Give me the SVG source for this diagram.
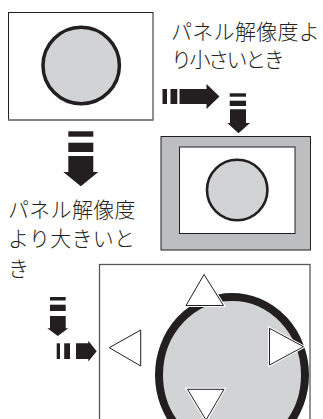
<svg xmlns="http://www.w3.org/2000/svg" width="323" height="419" viewBox="0 0 323 419">
<style>
.t{font-family:"Noto Sans CJK JP","Noto Sans",sans-serif;font-size:21px;font-weight:300;letter-spacing:0.3px;fill:#231f20}
.ar{fill:#231f20}
.disc{fill:#d1d3d4;stroke:#231f20}
.tri{fill:#fff;stroke:#231f20;stroke-width:1;stroke-linejoin:miter}
.halo{fill:none;stroke:#fff;stroke-width:3}
</style>
<rect width="323" height="419" fill="#fff"/>
<g id="source">
<rect x="8.5" y="12.5" width="144.5" height="107.5" fill="#fff" stroke="#231f20" stroke-width="1"/>
<line x1="8" y1="120" x2="153.5" y2="120" stroke="#808285" stroke-width="1.5"/>
<circle class="disc" cx="81.2" cy="65.5" r="38.2" stroke-width="3.5"/>
</g>
<g id="small">
<rect x="161" y="136.5" width="149.5" height="113.5" fill="#bcbec0" stroke="#231f20" stroke-width="1"/>
<rect x="179.5" y="147" width="115.5" height="86.5" fill="#fff" stroke="#231f20" stroke-width="1"/>
<circle class="disc" cx="237.2" cy="190" r="30.2" stroke-width="2.6"/>
</g>
<g id="large">
<rect x="99.5" y="264.5" width="210.5" height="160" fill="#fff" stroke="#58595b" stroke-width="1.3"/>
<ellipse class="disc" cx="232" cy="375" rx="73" ry="78" stroke-width="8"/>
<polygon class="halo" points="204,274.5 186,305.5 223.5,305.5"/>
<polygon class="tri" points="204,274.5 186,305.5 223.5,305.5"/>
<polygon class="halo" points="303.5,346.7 269.5,328.3 269.5,365"/>
<polygon class="tri" points="303.5,346.7 269.5,328.3 269.5,365"/>
<polygon class="halo" points="187.5,389.3 224,389.3 206,420"/>
<polygon class="tri" points="187.5,389.3 224,389.3 206,420"/>
<polygon class="tri" points="109.3,347.7 140.7,330 140.7,366"/>
</g>
<g id="label-small">
<text class="t" x="171" y="38.5">パネル解像度よ</text>
<text class="t" x="171" y="67" textLength="114" lengthAdjust="spacing">り小さいとき</text>
</g>
<g id="label-large">
<text class="t" x="8" y="216.5">パネル解像度</text>
<text class="t" x="8" y="246">より大きいと</text>
<text class="t" x="8" y="275.5">き</text>
</g>
<g id="connectors">
<g class="ar">
<rect x="162.5" y="89" width="4.5" height="15"/>
<rect x="170.5" y="89" width="6.8" height="15"/>
<polygon points="179.5,89 206.5,89 206.5,84 219.5,96.5 206.5,109 206.5,104 179.5,104"/>
</g>
<g class="ar">
<rect x="229.7" y="93.3" width="16.3" height="3.4"/>
<rect x="229.7" y="100.7" width="16.3" height="5.3"/>
<polygon points="230,109.3 246,109.3 246,123 250,123 238.5,133.3 227.3,123 230,123"/>
</g>
<g class="ar">
<rect x="68.3" y="131.3" width="25" height="5.4"/>
<rect x="68.3" y="142.7" width="25" height="9.3"/>
<polygon points="68.3,156 93.3,156 93.3,172 98.3,172 80.8,186.3 63.3,172 68.3,172"/>
</g>
<g class="ar">
<rect x="50" y="297" width="15.7" height="3.5"/>
<rect x="50" y="304.7" width="15.7" height="6.3"/>
<polygon points="50,316 65.7,316 65.7,328.3 68.3,328.3 57.8,336 47.3,328.3 50,328.3"/>
</g>
<g class="ar">
<rect x="56.7" y="343.3" width="3.3" height="15.7"/>
<rect x="64.2" y="343.3" width="5.8" height="15.7"/>
<polygon points="76,343.3 88.3,343.3 88.3,340.7 96.7,351.2 88.3,361.5 88.3,359 76,359"/>
</g>
</g>
</svg>
